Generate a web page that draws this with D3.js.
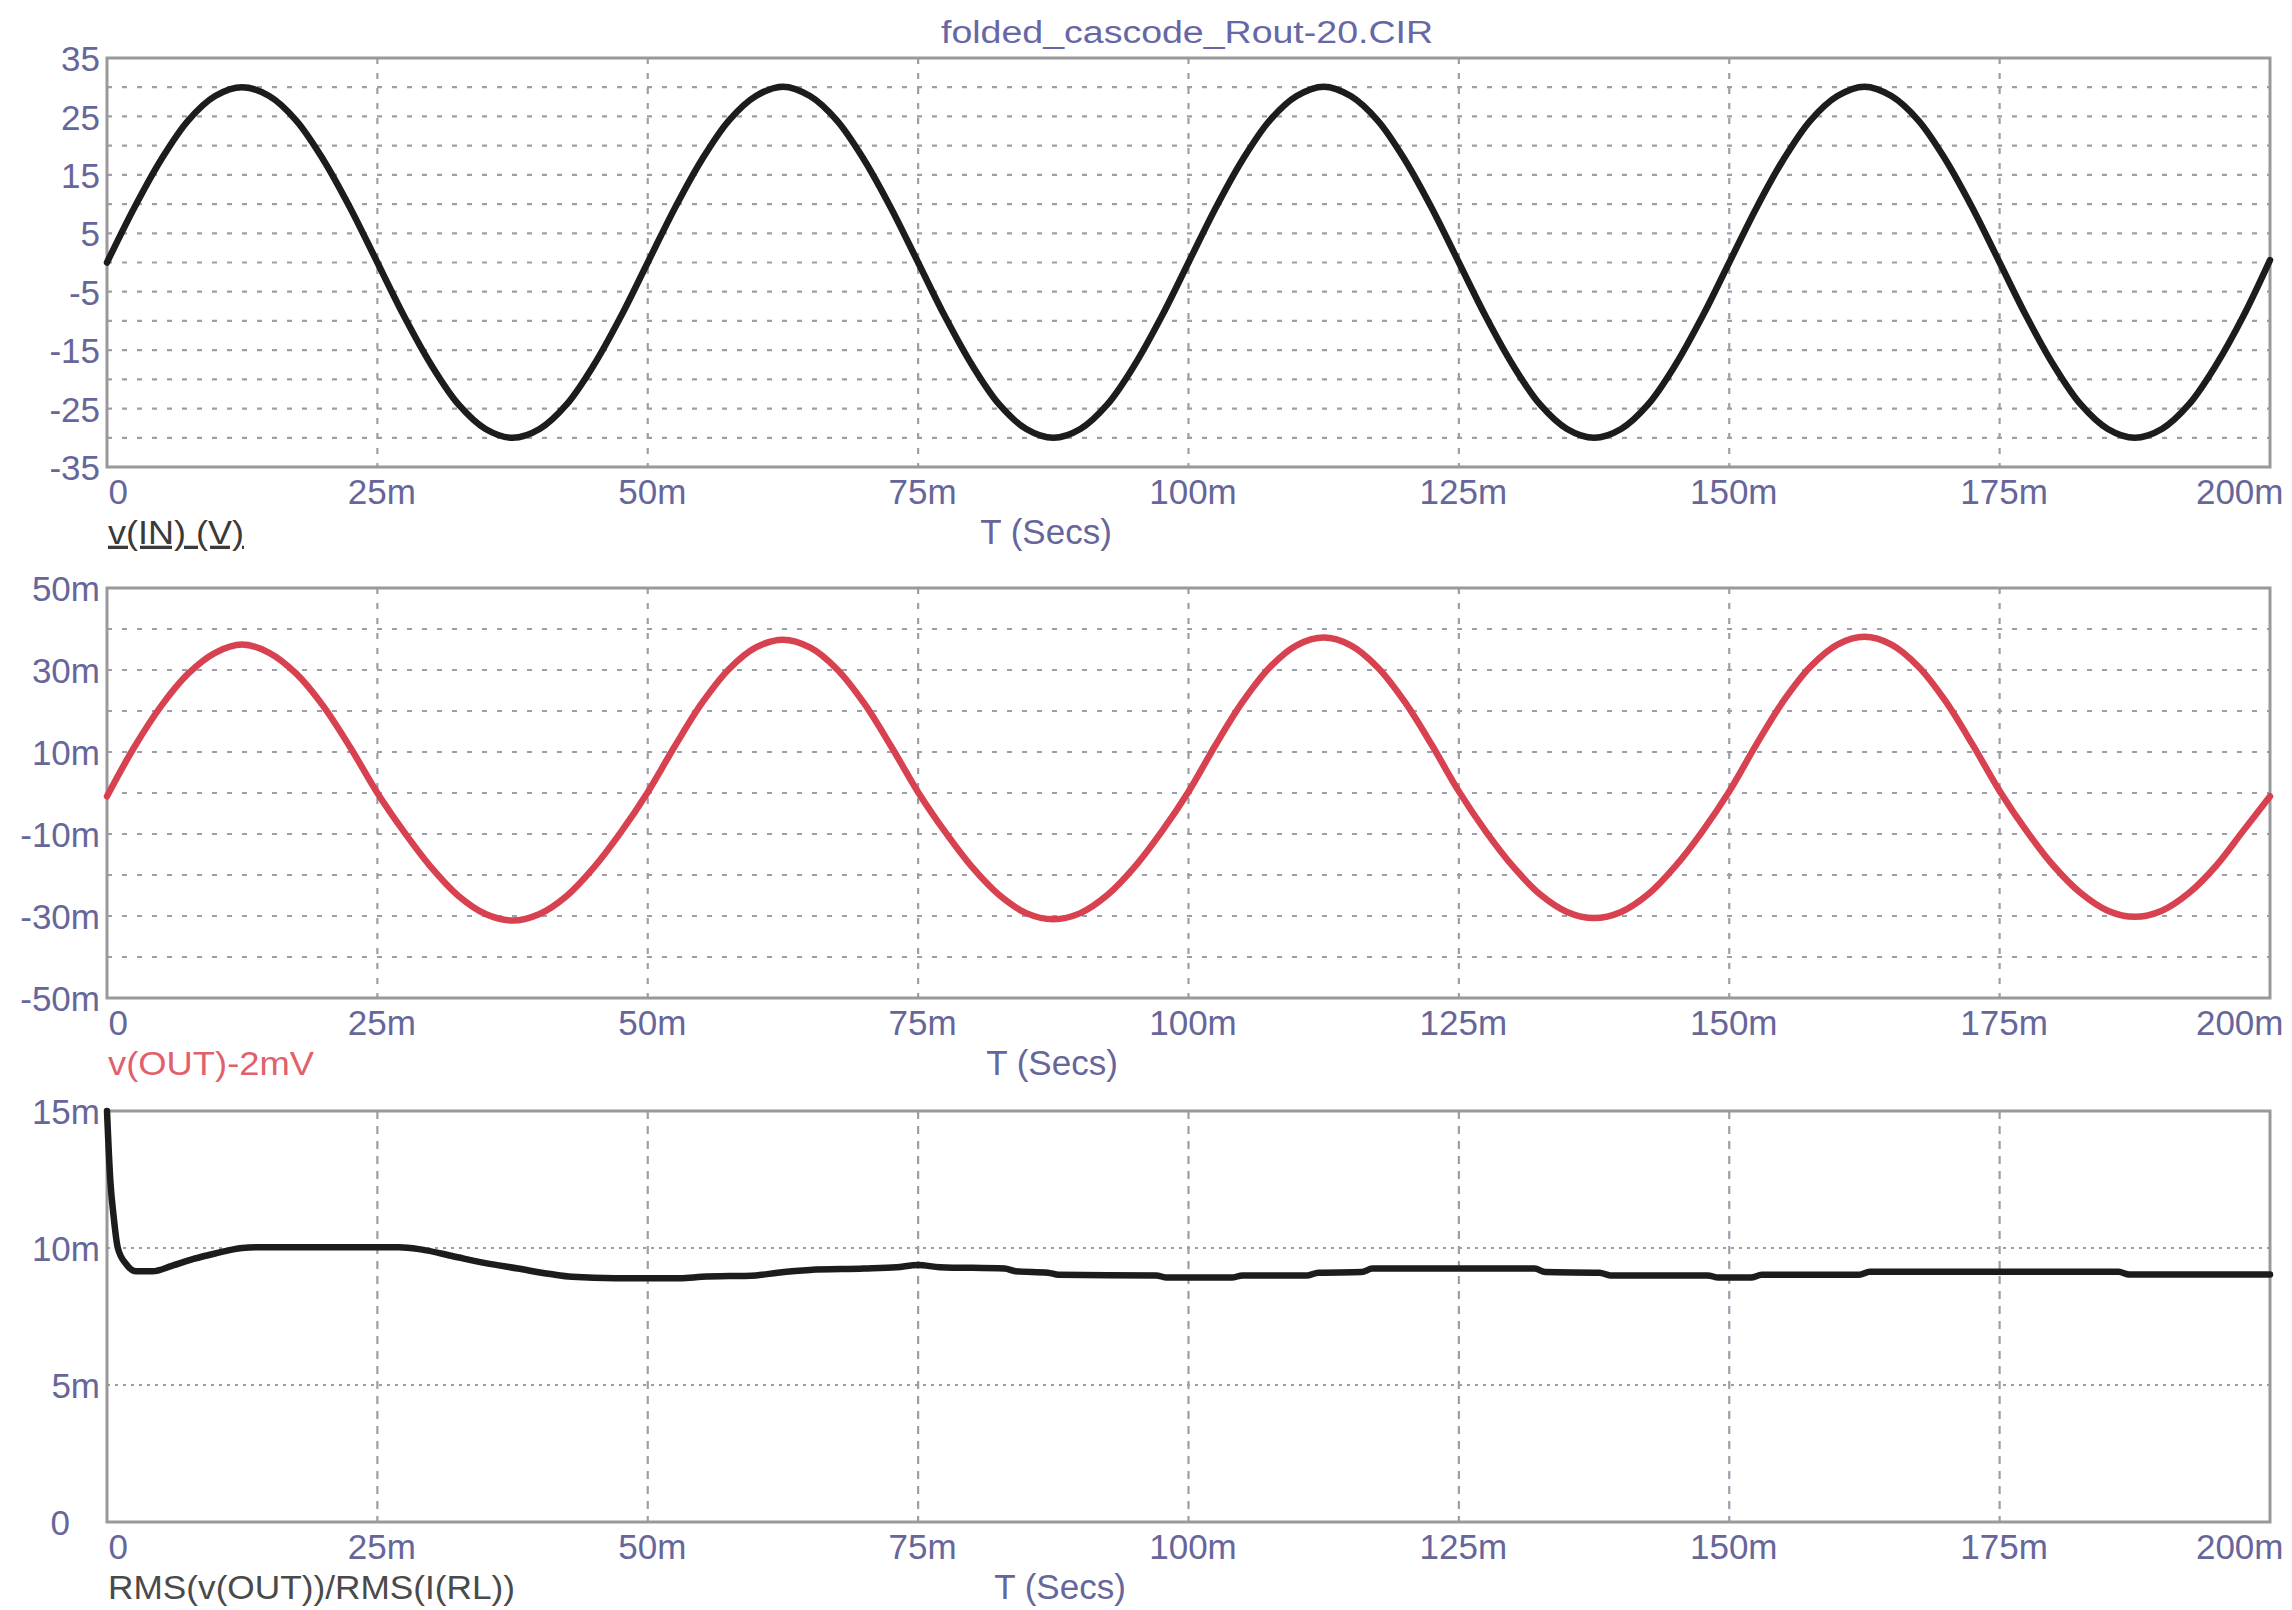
<!DOCTYPE html>
<html>
<head>
<meta charset="utf-8">
<script src="https://cdn.jsdelivr.net/npm/d3@7"></script>
<style>
  html, body { margin: 0; padding: 0; background: #ffffff; }
  svg { display: block; }
</style>
</head>
<body>
<svg id="chart" width="2292" height="1610"></svg>
<script>
// ---------------- DATA ----------------
const chartTitle = "folded_cascode_Rout-20.CIR";
const xAxisTitle = "T (Secs)";
const xTicks = [0, 25, 50, 75, 100, 125, 150, 175, 200];            // ms

const timeMs = [0,2.5,5,7.5,10,12.5,15,17.5,20,22.5,25,27.5,30,32.5,35,37.5,40,42.5,45,47.5,
  50,52.5,55,57.5,60,62.5,65,67.5,70,72.5,75,77.5,80,82.5,85,87.5,90,92.5,95,97.5,
  100,102.5,105,107.5,110,112.5,115,117.5,120,122.5,125,127.5,130,132.5,135,137.5,140,142.5,145,147.5,
  150,152.5,155,157.5,160,162.5,165,167.5,170,172.5,175,177.5,180,182.5,185,187.5,190,192.5,195,197.5,200];

// v(IN) in volts
const vIn = [0,9.3,17.6,24.3,28.5,30,28.5,24.3,17.6,9.3,0,-9.3,-17.6,-24.3,-28.5,-30,-28.5,-24.3,-17.6,-9.3,
  0,9.3,17.6,24.3,28.5,30.1,28.5,24.3,17.6,9.3,0,-9.3,-17.6,-24.3,-28.5,-30,-28.5,-24.3,-17.6,-9.3,
  0,9.3,17.6,24.3,28.5,30.1,28.5,24.3,17.6,9.3,0,-9.3,-17.6,-24.3,-28.5,-30,-28.5,-24.3,-17.6,-9.3,
  0,9.3,17.6,24.3,28.5,30.1,28.5,24.3,17.6,9.3,0,-9.3,-17.6,-24.3,-28.5,-30,-28.5,-24.3,-17.6,-9.3,
  0.4];

// v(OUT)-2mV in millivolts
const vOut = [-0.8,11.1,21.2,29.1,34.2,36.2,34.2,29.1,21.2,11.1,0.0,-9.6,-18.2,-25.1,-29.5,-31.1,-29.5,-25.1,-18.2,-9.6,
  0.2,11.4,21.9,30.2,35.5,37.4,35.5,30.2,21.9,11.4,0.2,-9.5,-18.1,-24.9,-29.3,-30.8,-29.3,-24.9,-18.1,-9.5,
  0.3,11.7,22.2,30.6,36.0,37.9,36.0,30.6,22.2,11.7,0.4,-9.4,-17.9,-24.7,-29.0,-30.5,-29.0,-24.7,-17.9,-9.4,
  0.4,11.8,22.4,30.8,36.2,38.1,36.2,30.8,22.4,11.8,0.5,-9.3,-17.8,-24.4,-28.7,-30.2,-28.7,-24.4,-17.8,-9.3,
  -0.8];

// RMS(v(OUT))/RMS(I(RL)) in milli-units
const rmsTime = [0,0.3,0.6,1.0,1.8,2.7,4.2,6,8,10,12.5,14,20,27,29,32,35,38,41,43,47,53,55,60,62,65,70,73,75,77,
  83,84,87,88,97,98,104,105,111,112,116,117,132,133,138,139,148,149,152,153,162,163,186,187,200];
const rmsValue = [15.0,12.5,11.2,10.0,9.4,9.15,9.15,9.35,9.6,9.8,10.0,10.03,10.03,10.03,9.95,9.7,9.45,9.25,9.05,8.95,8.9,8.9,8.95,9.0,9.1,9.2,9.25,9.3,9.38,9.3,
  9.25,9.15,9.1,9.02,9.0,8.92,8.92,9.0,9.0,9.1,9.12,9.25,9.25,9.12,9.1,9.0,9.0,8.92,8.92,9.02,9.02,9.13,9.13,9.03,9.03];

const y1Labels = [35, 25, 15, 5, -5, -15, -25, -35];
const y1Grid = [30, 25, 20, 15, 10, 5, 0, -5, -10, -15, -20, -25, -30];
const y2Labels = [50, 30, 10, -10, -30, -50];
const y2Grid = [40, 30, 20, 10, 0, -10, -20, -30, -40];
const y3Labels = [15, 10, 5, 0];
const y3Grid = [10, 5];

const traceNames = ["v(IN) (V)", "v(OUT)-2mV", "RMS(v(OUT))/RMS(I(RL))"];

// ---------------- LAYOUT ----------------
const svg = d3.select("#chart");
const left = 107, right = 2270;
const FONT = "'Liberation Sans', Arial, sans-serif";
const tickColor = "#66669a";
const frameColor = "#999999";
const gridColor = "#9e9eaa";

const x = d3.scaleLinear().domain([0, 200]).range([left, right]);

const panels = [
  { top: 58, bottom: 467, domain: [-35, 35], labels: y1Labels, grid: y1Grid,
    fmt: d => String(d), t: timeMs, v: vIn, color: "#1c1c1c", curve: d3.curveCatmullRom,
    name: traceNames[0], nameColor: "#3a3a3a", nameWidth: 136, underline: true,
    hDash: "5,10", vDash: "6,9", secsX: 1046 },
  { top: 588, bottom: 998, domain: [-50, 50], labels: y2Labels, grid: y2Grid,
    fmt: d => d + "m", t: timeMs, v: vOut, color: "#d8414f", curve: d3.curveCatmullRom,
    name: traceNames[1], nameColor: "#e0606c", nameWidth: 206, underline: false,
    hDash: "5,10", vDash: "6,9", secsX: 1052 },
  { top: 1111, bottom: 1522, domain: [0, 15], labels: y3Labels, grid: y3Grid,
    fmt: d => d === 0 ? "0" : d + "m", t: rmsTime, v: rmsValue, color: "#1c1c1c", curve: d3.curveMonotoneX,
    name: traceNames[2], nameColor: "#4a4a4a", nameWidth: 407, underline: false,
    hDash: "3,5", vDash: "8,7", secsX: 1060 }
];

// title
svg.append("text")
  .attr("x", 1187).attr("y", 35)
  .attr("text-anchor", "middle").attr("dominant-baseline", "middle")
  .attr("font-family", FONT).attr("font-size", 31)
  .attr("fill", "#6767a6")
  .attr("textLength", 492).attr("lengthAdjust", "spacingAndGlyphs")
  .text(chartTitle);

panels.forEach((p, pi) => {
  const y = d3.scaleLinear().domain(p.domain).range([p.bottom, p.top]);
  const g = svg.append("g");

  // horizontal grid
  g.append("g").selectAll("line").data(p.grid).join("line")
    .attr("x1", left).attr("x2", right)
    .attr("y1", d => y(d)).attr("y2", d => y(d))
    .attr("stroke", gridColor).attr("stroke-width", 2.2)
    .attr("stroke-dasharray", p.hDash);

  // vertical grid
  g.append("g").selectAll("line").data(xTicks.slice(1, -1)).join("line")
    .attr("x1", d => x(d)).attr("x2", d => x(d))
    .attr("y1", p.top).attr("y2", p.bottom)
    .attr("stroke", gridColor).attr("stroke-width", 2.2)
    .attr("stroke-dasharray", p.vDash);

  // frame
  g.append("rect")
    .attr("x", left).attr("y", p.top)
    .attr("width", right - left).attr("height", p.bottom - p.top)
    .attr("fill", "none").attr("stroke", frameColor).attr("stroke-width", 3);

  // y axis labels via d3 axis
  const yAxis = d3.axisLeft(y).tickValues(p.labels).tickFormat(p.fmt).tickSize(0).tickPadding(7);
  const ya = g.append("g").attr("transform", `translate(${left},0)`).call(yAxis);
  ya.select(".domain").remove();
  ya.selectAll("text")
    .attr("font-family", FONT).attr("font-size", 35)
    .attr("fill", tickColor)
    .attr("dy", "0.36em")
    .attr("dx", d => (pi === 2 && d === 0) ? -30 : 0);

  // x axis labels via d3 axis
  const xAxis = d3.axisBottom(x).tickValues(xTicks)
    .tickFormat(d => d === 0 ? "0" : d + "m").tickSize(0).tickPadding(0);
  const xa = g.append("g").attr("transform", `translate(0,${p.bottom + 24})`).call(xAxis);
  xa.select(".domain").remove();
  xa.selectAll("text")
    .attr("font-family", FONT).attr("font-size", 35)
    .attr("fill", tickColor)
    .attr("y", 0).attr("dy", "0.36em")
    .attr("text-anchor", d => d === 0 ? "start" : (d === 200 ? "end" : "middle"))
    .attr("dx", d => d === 0 ? 1 : (d === 200 ? 13 : 4));

  // trace
  const pts = p.t.map((t, i) => [t, p.v[i]]);
  const line = d3.line().x(d => x(d[0])).y(d => y(d[1])).curve(p.curve);
  g.append("path")
    .datum(pts)
    .attr("d", line)
    .attr("fill", "none")
    .attr("stroke", p.color)
    .attr("stroke-width", 6.5)
    .attr("stroke-linejoin", "round")
    .attr("stroke-linecap", "round");

  // trace name
  g.append("text")
    .attr("x", left + 1).attr("y", p.bottom + 68)
    .attr("dominant-baseline", "middle")
    .attr("font-family", FONT).attr("font-size", 33)
    .attr("fill", p.nameColor)
    .attr("textLength", p.nameWidth).attr("lengthAdjust", "spacingAndGlyphs")
    .style("text-decoration", p.underline ? "underline" : "none")
    .text(p.name);

  // x axis title
  g.append("text")
    .attr("x", p.secsX).attr("y", p.bottom + 68)
    .attr("text-anchor", "middle").attr("dominant-baseline", "middle")
    .attr("font-family", FONT).attr("font-size", 35)
    .attr("fill", tickColor)
    .text(xAxisTitle);
});
</script>
</body>
</html>
